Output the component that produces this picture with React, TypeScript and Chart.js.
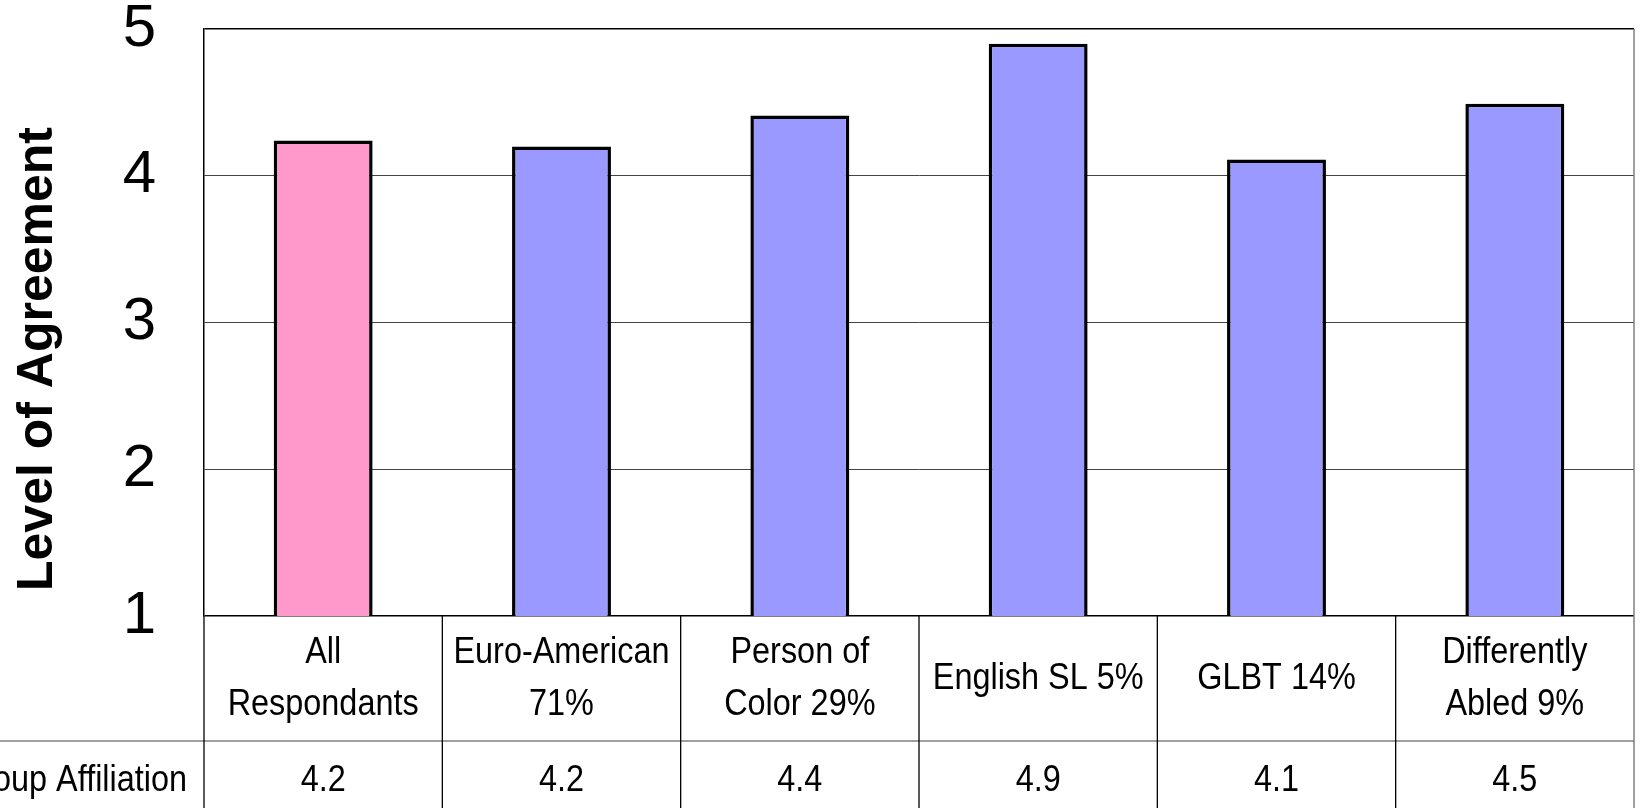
import React, { useEffect, useRef } from "react";
import { Chart, registerables } from "chart.js";

Chart.register(...registerables);

// ---- data ----
const categories: string[][] = [
  ["All", "Respondants"],
  ["Euro-American", "71%"],
  ["Person of", "Color 29%"],
  ["English SL 5%"],
  ["GLBT 14%"],
  ["Differently", "Abled 9%"],
];
const agreement: number[] = [4.24, 4.2, 4.41, 4.9, 4.11, 4.49];
const tableValues: string[] = ["4.2", "4.2", "4.4", "4.9", "4.1", "4.5"];
const barColors: string[] = ["#FF99CC", "#9999FF", "#9999FF", "#9999FF", "#9999FF", "#9999FF"];
const rowHeader = "Group Affiliation";
const yTitle = "Level of Agreement";
const yMin = 1;
const yMax = 5;
const yStep = 1;

const FONT = "'Liberation Sans', Arial, Helvetica, sans-serif";

function line(ctx: CanvasRenderingContext2D, x1: number, y1: number, x2: number, y2: number) {
  ctx.beginPath();
  ctx.moveTo(x1, y1);
  ctx.lineTo(x2, y2);
  ctx.stroke();
}

function narrowText(ctx: CanvasRenderingContext2D, text: string, x: number, y: number, align: CanvasTextAlign) {
  ctx.save();
  ctx.translate(x, y);
  ctx.scale(0.9, 1);
  ctx.textAlign = align;
  ctx.textBaseline = "alphabetic";
  ctx.fillText(text, 0, 0);
  ctx.restore();
}

const tablePlugin = {
  id: "dataTable",
  afterDraw(chart: any) {
    const ctx: CanvasRenderingContext2D = chart.ctx;
    const area = chart.chartArea;
    const xs = chart.scales.x;
    const n = categories.length;
    const cellW = (area.right - area.left) / n;
    const top = area.bottom;
    const rowDiv = top + 125;
    const bottom = chart.height;

    ctx.save();
    // horizontal divider between the two table rows
    ctx.strokeStyle = "#7f7f7f";
    ctx.lineWidth = 1.5;
    line(ctx, 0, rowDiv, area.right, rowDiv);

    // vertical cell boundaries
    ctx.strokeStyle = "#000";
    ctx.lineWidth = 1.3;
    for (let i = 0; i < n; i++) {
      const xb = xs.getPixelForValue(i) - cellW / 2;
      line(ctx, xb, top, xb, bottom);
    }
    // right border of plot and table
    ctx.strokeStyle = "#7f7f7f";
    ctx.lineWidth = 1.5;
    line(ctx, area.right, area.top, area.right, bottom);

    // category labels
    ctx.fillStyle = "#000";
    ctx.font = `36px ${FONT}`;
    const rowCenter = top + 60;
    const lh = 52;
    for (let i = 0; i < n; i++) {
      const cx = xs.getPixelForValue(i);
      const lines = categories[i];
      const k = lines.length;
      lines.forEach((t, j) => {
        const by = rowCenter + 13 + (j - (k - 1) / 2) * lh;
        narrowText(ctx, t, cx, by, "center");
      });
      narrowText(ctx, tableValues[i], cx, rowDiv + 50, "center");
    }
    narrowText(ctx, rowHeader, area.left - 17, rowDiv + 50, "right");

    // y axis title
    ctx.save();
    ctx.translate(51.5, 359);
    ctx.rotate(-Math.PI / 2);
    ctx.font = `bold 50px ${FONT}`;
    ctx.textAlign = "center";
    ctx.textBaseline = "alphabetic";
    ctx.fillText(yTitle, 0, 0);
    ctx.restore();

    ctx.restore();
  },
};

export default function App() {
  const ref = useRef<HTMLCanvasElement>(null);

  useEffect(() => {
    const canvas = ref.current;
    if (!canvas) return;
    const chart = new Chart(canvas, {
      type: "bar",
      data: {
        labels: categories.map((c) => c.join(" ")),
        datasets: [
          {
            data: agreement,
            backgroundColor: barColors,
            borderColor: "#000",
            borderWidth: 3.5,
            borderSkipped: false,
            barPercentage: 0.415,
            categoryPercentage: 1,
          },
        ],
      },
      options: {
        animation: false,
        responsive: false,
        devicePixelRatio: 1,
        layout: { padding: { top: 29, right: 7, bottom: 192, left: 0 } },
        plugins: {
          legend: { display: false },
          tooltip: { enabled: false },
          title: { display: false },
        },
        scales: {
          x: {
            type: "category",
            display: false,
          },
          y: {
            min: yMin,
            max: yMax,
            afterFit: (scale: any) => {
              scale.width = 204;
              scale.paddingTop = 0;
              scale.paddingBottom = 0;
            },
            ticks: {
              stepSize: yStep,
              color: "#000",
              padding: 48,
              font: { family: FONT, size: 60, lineHeight: 0.5 },
            },
            grid: {
              drawTicks: false,
              color: (c: any) =>
                c.tick && (c.tick.value === yMin || c.tick.value === yMax) ? "#000" : "#444",
              lineWidth: (c: any) =>
                c.tick && (c.tick.value === yMin || c.tick.value === yMax) ? 1.5 : 1,
            },
            border: { display: true, color: "#000", width: 1.5 },
          },
        },
      },
      plugins: [tablePlugin],
    });
    return () => chart.destroy();
  }, []);

  return (
    <div
      style={{
        position: "fixed",
        left: 0,
        top: 0,
        width: 1641,
        height: 808,
        overflow: "hidden",
        background: "#fff",
      }}
    >
      <canvas ref={ref} width={1641} height={808} style={{ display: "block", width: 1641, height: 808 }} />
    </div>
  );
}
